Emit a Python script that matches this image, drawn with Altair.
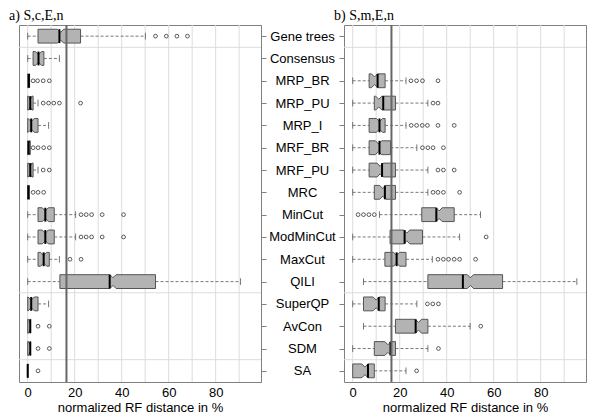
import altair as alt
import pandas as pd

NAMES = ["Gene trees", "Consensus", "MRP_BR", "MRP_PU", "MRP_I", "MRF_BR", "MRF_PU", "MRC",
         "MinCut", "ModMinCut", "MaxCut", "QILI", "SuperQP", "AvCon", "SDM", "SA"]

# panel a) S,c,E,n
A_LO = [0, 0, 0, 0, 0, 0, 0, 0, 0, 0, 0, 0, 0, 0, 0, 0]
A_Q1 = [4.4, 2.3, 0, 0, 0, 0, 0, 0, 4.4, 4.4, 4.4, 13.7, 0, 0, 0, 0]
A_MED = [13.5, 4.6, 0.5, 1.1, 1.5, 0.4, 1.1, 0.3, 7.5, 7.5, 6.8, 34.9, 1.5, 1.1, 1.1, 0]
A_NOTCH = [14.0, 4.6, 0.5, 1.1, 1.5, 0.4, 1.1, 0.3, 7.5, 7.5, 6.8, 36.3, 1.5, 1.1, 1.1, 0]
A_Q3 = [22.5, 6.9, 0.8, 2.3, 4.4, 1.1, 2.3, 0.7, 11.3, 11.3, 9.2, 54.4, 4.4, 1.2, 1.2, 0]
A_HI = [50.1, 13.5, 0.8, 4.4, 8.9, 1.1, 4.4, 0.7, 20.4, 20.4, 13.5, 90.6, 8.9, 1.2, 1.2, 0]
A_OUT = [[54.4, 59.0, 63.5, 68.0], [], [2.3, 4.2, 6.6, 9.2], [6.6, 8.9, 11.1, 13.5, 22.5], [],
         [2.3, 4.4, 6.8, 9.2], [6.6, 9.2], [2.3, 4.4, 6.8], [22.7, 24.9, 27.2, 31.7, 40.8],
         [22.7, 24.9, 27.2, 31.7, 40.8], [18.0, 22.7], [], [], [4.4, 9.2], [4.4, 9.2], [4.4]]

# panel b) S,m,E,n  (no data for Gene trees / Consensus)
B_LO = [None, None, 0, 0, 0, 0, 0, 0, 11.4, 0, 0, 4.6, 0, 4.6, 0, 0]
B_Q1 = [None, None, 7.0, 9.2, 7.0, 7.0, 7.0, 9.2, 29.4, 15.9, 13.7, 32.0, 4.6, 18.2, 9.2, 0]
B_MED = [None, None, 10.6, 13.0, 11.4, 11.4, 12.5, 13.7, 35.6, 22.1, 18.7, 46.9, 11.1, 26.8, 16.1, 6.5]
B_NOTCH = [None, None, 9.3, 11.1, 11.4, 11.0, 11.7, 12.8, 36.8, 23.0, 18.7, 50.1, 10.0, 28.0, 15.0, 5.2]
B_Q3 = [None, None, 13.8, 18.2, 13.8, 16.1, 18.2, 18.2, 43.2, 29.7, 22.7, 63.8, 13.8, 32.0, 18.2, 9.2]
B_HI = [None, None, 22.7, 32.0, 22.7, 27.3, 32.0, 32.0, 54.4, 45.5, 33.9, 95.4, 27.3, 50.0, 32.0, 22.7]
B_OUT = [[], [], [24.8, 27.2, 29.7, 36.3], [34.2, 36.3], [24.9, 27.2, 29.6, 31.8, 36.3, 43.2],
         [29.7, 32.0, 34.2, 38.6], [36.3, 38.6, 43.2], [34.2, 36.3, 38.6, 45.5], [2.3, 4.6, 6.9, 9.2],
         [56.8], [36.3, 38.6, 40.8, 43.2, 45.5, 52.3], [], [31.8, 34.1, 36.5], [54.5], [36.5], [27.2]]

TITLES = ["a) S,c,E,n", "b) S,m,E,n"]
REF = 16.5
GRID_X = [0, 10, 20, 30, 40, 50, 60, 70, 80, 90]
X_TICKS = [0, 20, 40, 60, 80]
SEP_Y = [0.5, 11.5, 14.5]

H = 0.31      # half box height (rows)
HN = 0.55     # notch depth ratio
CAP = 0.15    # half cap height

def build(lo, q1, med, nc, q3, hi, outs):
    verts, meds, whisk, caps, pts = [], [], [], [], []
    for i in range(len(NAMES)):
        for v in outs[i]:
            pts.append({"idx": i, "x": v})
        if lo[i] is None:
            continue
        a, b = q1[i], q3[i]
        if b > a:
            w = min(1.3, 0.3 * (b - a))
            c = min(max(nc[i], a + w), b - w)
            xs = [(a, 1.0), (c - w, 1.0), (c, HN), (c + w, 1.0), (b, 1.0)]
        else:
            xs = [(a, 1.0), (b + 0.05, 1.0)]
        for x, f in xs:
            verts.append({"idx": i, "x": x, "y": i - H * f, "y2": i + H * f})
        meds.append({"idx": i, "x": med[i], "y": i - H, "y2": i + H})
        if lo[i] < a:
            whisk.append({"idx": i, "x": lo[i], "x2": a})
            caps.append({"idx": i, "x": lo[i], "y": i - CAP, "y2": i + CAP})
        if hi[i] > b:
            whisk.append({"idx": i, "x": b, "x2": hi[i]})
            caps.append({"idx": i, "x": hi[i], "y": i - CAP, "y2": i + CAP})
    return (pd.DataFrame(verts), pd.DataFrame(meds), pd.DataFrame(whisk),
            pd.DataFrame(caps), pd.DataFrame(pts))

label_expr = "[" + ",".join("'" + n + "'" for n in NAMES) + "][datum.value]"
XS = alt.Scale(domain=[-3.7, 99.3], nice=False, zero=False)
YS = alt.Scale(domain=[-0.5, 15.5], nice=False, zero=False, reverse=True)
XAX = alt.Axis(values=X_TICKS, title="normalized RF distance in %", ticks=False,
               labelPadding=4, titlePadding=2, grid=False, domain=False)

def panel(stats, title, left):
    verts, meds, whisk, caps, pts = stats
    if left:
        yax = alt.Axis(values=list(range(16)), orient="right", labelExpr=label_expr,
                       labelAlign="center", labelBaseline="middle", tickSize=5,
                       labelPadding=36, labelOverlap=False, labelFlush=False, labelBound=False,
                       title=None, grid=False, domain=False)
    else:
        yax = alt.Axis(values=list(range(16)), orient="left", labels=False,
                       tickSize=5, title=None, grid=False, domain=False)

    def X(f):
        return alt.X(f, scale=XS, axis=XAX)

    def Y(f, **kw):
        return alt.Y(f, scale=YS, axis=yax, **kw)

    gridx = alt.Chart(pd.DataFrame({"x": GRID_X})).mark_rule(color="#dcdcdc", strokeWidth=1).encode(
        x=X("x:Q"))
    gridy = alt.Chart(pd.DataFrame({"y": SEP_Y})).mark_rule(color="#dcdcdc", strokeWidth=1).encode(
        y=Y("y:Q"))
    wh = alt.Chart(whisk).mark_rule(color="#555555", strokeWidth=0.8, strokeDash=[3, 2]).encode(
        x=X("x:Q"), x2="x2:Q", y=Y("idx:Q"))
    cp = alt.Chart(caps).mark_rule(color="#555555", strokeWidth=0.8).encode(
        x=X("x:Q"), y=Y("y:Q"), y2="y2:Q")
    bx = alt.Chart(verts).mark_area(orient="vertical", fill="#b3b3b3", stroke="#555555",
                                    strokeWidth=1, opacity=1, fillOpacity=1).encode(
        x=X("x:Q"), y=Y("y:Q", stack=None), y2="y2:Q", detail="idx:N")
    md = alt.Chart(meds).mark_rule(color="black", strokeWidth=2).encode(
        x=X("x:Q"), y=Y("y:Q"), y2="y2:Q")
    layers = [gridx, gridy, wh, cp, bx, md]
    if len(pts):
        op = alt.Chart(pts).mark_point(shape="circle", filled=False, size=14, color="#333333",
                                       strokeWidth=0.8, opacity=1).encode(
            x=X("x:Q"), y=Y("idx:Q"))
        layers.append(op)
    ref = alt.Chart(pd.DataFrame({"x": [REF]})).mark_rule(color="#666666", strokeWidth=2).encode(
        x=X("x:Q"))
    layers.append(ref)
    ttl = alt.Chart(pd.DataFrame({"t": [title]})).mark_text(
        align="left", baseline="top", font="Liberation Serif", fontSize=14, color="black").encode(
        text="t:N", x=alt.value(-10), y=alt.value(-16))
    layers.append(ttl)
    return alt.layer(*layers).properties(width=242, height=357)

left = panel(build(A_LO, A_Q1, A_MED, A_NOTCH, A_Q3, A_HI, A_OUT), TITLES[0], True)
right = panel(build(B_LO, B_Q1, B_MED, B_NOTCH, B_Q3, B_HI, B_OUT), TITLES[1], False)

chart = alt.hconcat(left, right, spacing=83, bounds="flush").properties(
    padding={"left": 0, "top": 0, "right": 5, "bottom": 0}
).configure_view(stroke="#808080", strokeWidth=1).configure_axis(
    labelFont="Liberation Sans", labelFontSize=13, labelColor="black",
    titleFont="Liberation Sans", titleFontSize=13, titleFontWeight="normal", titleColor="black",
    tickColor="#808080", labelOverlap=False
)

chart.save("out.html", embed_options={"renderer": "svg", "actions": False})
